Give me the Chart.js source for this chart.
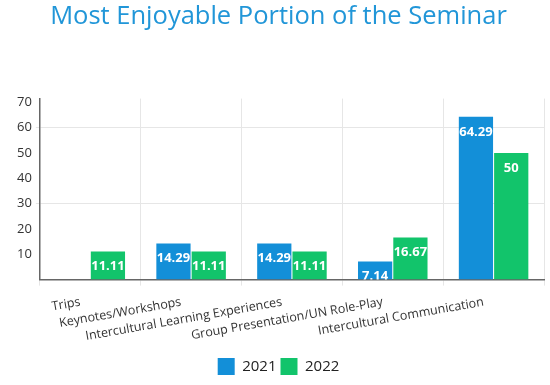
<!DOCTYPE html>
<html>
<head>
<meta charset="utf-8">
<script src="https://cdn.jsdelivr.net/npm/chart.js@4/dist/chart.umd.min.js"></script>
<style>
  html, body { margin: 0; padding: 0; background: #fff; }
  #wrap { width: 550px; height: 385px; }
</style>
</head>
<body>
<div id="wrap"><canvas id="chartSeminar"></canvas></div>
<script>
const categorias = ['Trips', 'Keynotes/Workshops', 'Intercultural Learning Experiences', 'Group Presentation/UN Role-Play', 'Intercultural Communication'];
const valores2021 = [0, 14.29, 14.29, 7.14, 64.29];
const valores2022 = [11.11, 11.11, 11.11, 16.67, 50];
const ticksY = [10, 20, 30, 40, 50, 60, 70];

// etiquetas blancas dentro de cada barra
const etiquetasBarras = {
    id: 'etiquetasBarras',
    afterDatasetsDraw(chart) {
        const ctx = chart.ctx;
        const area = chart.chartArea;
        ctx.save();
        ctx.beginPath();
        ctx.rect(area.left, area.top, area.right - area.left, area.bottom - area.top);
        ctx.clip();
        ctx.font = 'bold 13px "Open Sans"';
        ctx.fillStyle = '#fff';
        ctx.textAlign = 'center';
        ctx.textBaseline = 'middle';
        chart.data.datasets.forEach((ds, i) => {
            chart.getDatasetMeta(i).data.forEach((bar, j) => {
                if (!ds.data[j]) return;
                ctx.fillText(String(ds.data[j]), bar.x, bar.y + 15);
            });
        });
        ctx.restore();
    }
};

Chart.defaults.font.family = '"Open Sans"';

new Chart(document.getElementById('chartSeminar').getContext('2d'), {
    type: 'bar',
    data: {
        labels: categorias,
        datasets: [
            { label: '2021', data: valores2021, backgroundColor: '#138fd8', categoryPercentage: 0.7, barPercentage: 0.97 },
            { label: '2022', data: valores2022, backgroundColor: '#12c46b', categoryPercentage: 0.7, barPercentage: 0.97 }
        ]
    },
    options: {
        responsive: true,
        maintainAspectRatio: false,
        animation: false,
        layout: { padding: { left: 13, right: 6, bottom: 0 } },
        plugins: {
            title: {
                display: true,
                text: 'Most Enjoyable Portion of the Seminar',
                color: '#2196d8',
                font: { size: 25.5, weight: 'normal' },
                padding: { top: 1, bottom: 67 }
            },
            legend: {
                position: 'bottom',
                labels: { boxWidth: 17, boxHeight: 17, color: '#222', font: { size: 15 }, padding: 4 }
            },
            tooltip: { enabled: false }
        },
        scales: {
            x: {
                grid: { color: '#e6e6e6', tickLength: 6 },
                border: { color: '#666', width: 1.5 },
                ticks: { color: '#333', font: { size: 12.5 }, autoSkip: false, minRotation: 10, maxRotation: 10, labelOffset: -10, padding: 9 },
                afterFit: s => { s.height += 1; }
            },
            y: {
                min: 0,
                max: 71.5,
                afterBuildTicks: axis => { axis.ticks = ticksY.map(v => ({ value: v })); },
                grid: {
                    tickLength: 4,
                    color: c => (c.tick && (c.tick.value === 30 || c.tick.value === 60)) ? '#e6e6e6' : 'rgba(0,0,0,0)'
                },
                border: { color: '#666', width: 1.5 },
                ticks: { color: '#333', font: { size: 13 }, padding: 4 }
            }
        }
    },
    plugins: [etiquetasBarras]
});
</script>
</body>
</html>
